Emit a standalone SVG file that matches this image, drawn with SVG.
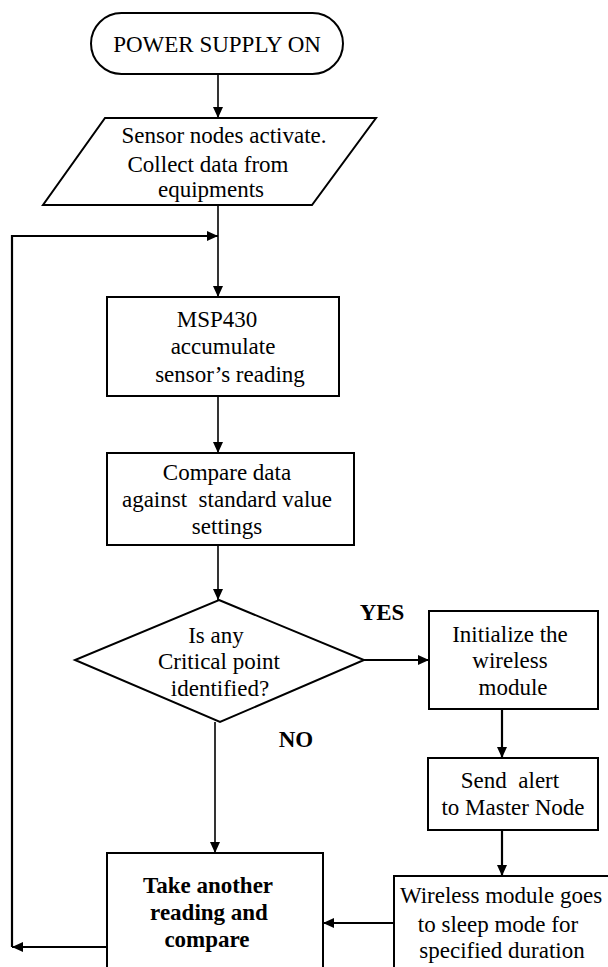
<svg xmlns="http://www.w3.org/2000/svg" width="608" height="967" viewBox="0 0 608 967">
<style>
.shape{fill:#fff;stroke:#000;stroke-width:2}
.conn{fill:none;stroke:#000;stroke-width:1.6}
.thick{stroke-width:2.2}
text{font-family:"Liberation Serif","Times New Roman",serif;font-size:23px;fill:#000;text-anchor:middle}
.b{font-weight:bold}
</style>
<defs>
<marker id="ah" markerUnits="userSpaceOnUse" markerWidth="11" markerHeight="10" refX="11" refY="5" orient="auto">
<path d="M0,0 L11,5 L0,10 z" fill="#000"/>
</marker>
</defs>
<rect width="608" height="967" fill="#fff"/>
<g id="connectors">
<path class="conn" d="M218,74 V118" marker-end="url(#ah)"/>
<path class="conn" d="M218,205 V297" marker-end="url(#ah)"/>
<path class="conn thick" d="M12,947 V236 H218" marker-end="url(#ah)"/>
<path class="conn thick" d="M107,947 H12" marker-end="url(#ah)"/>
<path class="conn" d="M218,396 V453" marker-end="url(#ah)"/>
<path class="conn" d="M218,545 V600" marker-end="url(#ah)"/>
<path class="conn thick" d="M364,660 H429" marker-end="url(#ah)"/>
<path class="conn" d="M215,722 V853" marker-end="url(#ah)"/>
<path class="conn thick" d="M502,709 V758" marker-end="url(#ah)"/>
<path class="conn thick" d="M502,830 V876" marker-end="url(#ah)"/>
<path class="conn thick" d="M394,923 H323" marker-end="url(#ah)"/>
</g>
<g id="start">
<rect class="shape" x="91" y="13" width="252" height="61" rx="30.5"/>
<text x="217" y="52">POWER SUPPLY ON</text>
</g>
<g id="collect">
<polygon class="shape" points="105,118 376,118 312,205 43,205"/>
<text x="224" y="143">Sensor nodes activate.</text>
<text x="208" y="172">Collect data from</text>
<text x="211" y="197">equipments</text>
</g>
<g id="accumulate">
<rect class="shape" x="107" y="297" width="232" height="99"/>
<text x="217" y="327">MSP430</text>
<text x="223" y="354">accumulate</text>
<text x="230" y="382">sensor’s reading</text>
</g>
<g id="compare">
<rect class="shape" x="107" y="453" width="247" height="92"/>
<text x="227" y="480">Compare data</text>
<text x="227" y="507" xml:space="preserve">against  standard value</text>
<text x="227" y="534">settings</text>
</g>
<g id="decision">
<polygon class="shape" points="219,600 364,660 220,722 75,660"/>
<text x="216" y="643">Is any</text>
<text x="219" y="669">Critical point</text>
<text x="220" y="696">identified?</text>
</g>
<g id="labels">
<text class="b" x="382" y="620">YES</text>
<text class="b" x="296" y="747">NO</text>
</g>
<g id="init">
<rect class="shape" x="429" y="611" width="169" height="98"/>
<text x="510" y="642">Initialize the</text>
<text x="510" y="668">wireless</text>
<text x="513" y="695">module</text>
</g>
<g id="alert">
<rect class="shape" x="428" y="758" width="170" height="72"/>
<text x="510" y="788" xml:space="preserve">Send  alert</text>
<text x="513" y="815">to Master Node</text>
</g>
<g id="sleep">
<rect class="shape" x="394" y="876" width="220" height="100"/>
<text x="501" y="903">Wireless module goes</text>
<text x="498" y="932">to sleep mode for</text>
<text x="502" y="958">specified duration</text>
</g>
<g id="another">
<rect class="shape" x="107" y="853" width="216" height="123"/>
<text class="b" x="208" y="893">Take another</text>
<text class="b" x="209" y="920">reading and</text>
<text class="b" x="207" y="947">compare</text>
</g>
</svg>
